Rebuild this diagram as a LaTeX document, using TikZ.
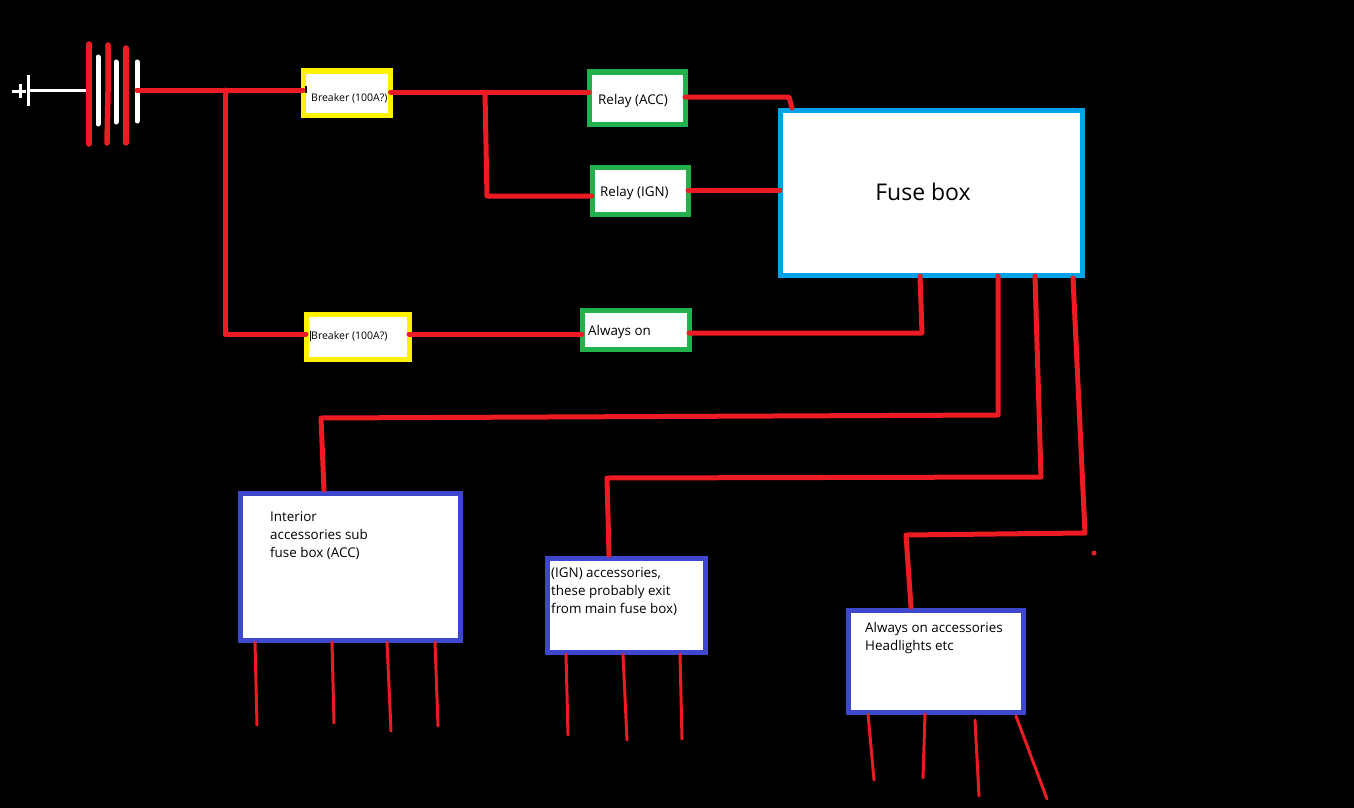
\documentclass[tikz,border=0pt]{standalone}
\usepackage{fontspec}
\setmainfont{Open Sans}
\definecolor{wred}{RGB}{237,28,36}
\definecolor{wyel}{RGB}{255,242,0}
\definecolor{wgrn}{RGB}{34,177,76}
\definecolor{wblu}{RGB}{0,162,232}
\definecolor{windigo}{RGB}{63,72,204}
\tikzset{
  x=1pt,y=-1pt,
  wire/.style={draw=wred,line width=5pt,line cap=round,line join=round},
  thinwire/.style={draw=wred,line width=3pt,line cap=round},
  whitebar/.style={draw=white,line width=5pt,line cap=round},
  redbar/.style={draw=wred,line width=5.5pt,line cap=round},
  box/.style={fill=white,line width=5pt,inner sep=0pt,outer sep=0pt},
  lbl/.style={inner sep=0pt,align=left,anchor=west,text=black,font=\fontsize{13.4}{18}\selectfont},
}
\newcommand{\bx}[6]{% name,color,x1,y1,x2,y2
  \node[box,draw=#2,minimum width={(#5-#3)*1pt},minimum height={(#6-#4)*1pt},anchor=north west] (#1) at (#3,#4) {};}
\begin{document}
\begin{tikzpicture}
\useasboundingbox[fill=black] (0,0) rectangle (1354,808);
% battery
\draw[draw=white,line width=3pt] (12,91) -- (26,91);
\draw[draw=white,line width=3pt] (20,84) -- (20,98);
\draw[draw=white,line width=3pt] (28,75) -- (28,106);
\draw[draw=white,line width=3pt] (30,90) -- (86,90);
\draw[redbar] (89,44) -- (89,144);
\draw[redbar] (108,45) -- (108,92) -- (107,143);
\draw[redbar] (126,48) -- (126,143);
\draw[whitebar] (98,57) -- (98,124);
\draw[whitebar] (116,62) -- (116,122);
\draw[whitebar] (137,62) -- (137,121);
\coordinate (batt) at (137,90);
% boxes
\bx{brkA}{wyel}{303}{71}{390.5}{115}
\bx{brkB}{wyel}{306}{314}{409}{359}
\bx{relA}{wgrn}{589}{72}{685}{124}
\bx{relI}{wgrn}{592}{167}{688}{214}
\bx{alw}{wgrn}{582}{310}{689}{349}
\bx{fuse}{wblu}{780}{110}{1082}{275}
\bx{intr}{windigo}{240}{493}{460}{640}
\bx{ign}{windigo}{547}{558}{705}{652}
\bx{aon}{windigo}{848}{610}{1023}{712}
% labels
\draw[draw=black,line width=1.5pt] (306,86) -- (306,93);
\draw[draw=black,line width=1pt] (310,331) -- (310,341);
\node[lbl,font=\fontsize{10.5}{13}\selectfont] at (311,98) {Breaker (100A?)};
\node[lbl,font=\fontsize{10.5}{13}\selectfont] at (311,336) {Breaker (100A?)};
\node[lbl] at (598,101) {Relay (ACC)};
\node[lbl] at (600,193) {Relay (IGN)};
\node[lbl] at (588,332) {Always on};
\node[inner sep=0pt,text=black,font=\fontsize{23}{28}\selectfont] at (923,192) {Fuse box};
\node[lbl,anchor=north west] at (270,511) {Interior\\accessories sub\\fuse box (ACC)};
\node[lbl,anchor=north west] at (551,567) {(IGN) accessories,\\these probably exit\\from main fuse box)};
\node[lbl,anchor=north west] at (865,622) {Always on accessories\\Headlights etc};
% junctions
\coordinate (j1) at (225,90);
\coordinate (j1b) at (225,334);
\coordinate (j2) at (485,93);
\coordinate (j2b) at (487,196);
\coordinate (a1) at (789,97);
\coordinate (a2) at (792,108);
% main wires
\draw[wire] (batt) -- (brkA.west |- batt);
\draw[wire] (j1) -- (j1b) -- (brkB.west |- j1b);
\draw[wire] (brkA.east |- 0,92) -- (relA.west |- 0,92);
\draw[wire] (j2) -- (j2b) -- (relI.west |- j2b);
\draw[wire] (relA.east |- 0,97) -- (a1) -- (a2);
\draw[wire] (relI.east |- 0,190) -- (fuse.west |- 0,190);
\draw[wire] (brkB.east |- 0,334) -- (alw.west |- 0,334);
\draw[wire] (alw.east |- 0,333) -- (922,333) -- (920,276);
\draw[wire] (998,276) -- (998,415) -- (321,418) -- (324,490);
\draw[wire] (1035,276) -- (1041,477) -- (607,478) -- (609,555);
\draw[wire] (1073,278) -- (1085,533) -- (906,535) -- (911,607);
\fill[wred] (1094,553) circle (2.5);
% leads
\draw[thinwire] (255,642) -- (257,725);
\draw[thinwire] (332,642) -- (334,723);
\draw[thinwire] (387,642) -- (391,731);
\draw[thinwire] (435,642) -- (438,726);
\draw[thinwire] (566,654) -- (568,735);
\draw[thinwire] (623,654) -- (627,740);
\draw[thinwire] (680,654) -- (682,739);
\draw[thinwire] (868,714) -- (874,780);
\draw[thinwire] (925,714) -- (923,778);
\draw[thinwire] (975,720) -- (979,796);
\draw[thinwire] (1016,716) -- (1047,799);
\end{tikzpicture}
\end{document}
